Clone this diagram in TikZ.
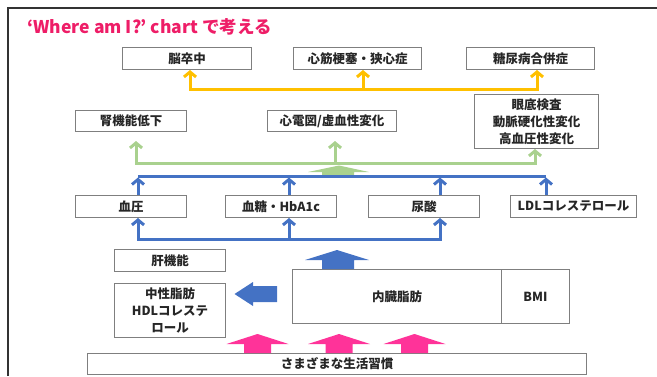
\documentclass[tikz,border=0pt]{standalone}
\usepackage{fontspec}
\setmainfont{Noto Sans CJK JP}
\usetikzlibrary{arrows.meta,calc}
\definecolor{ttl}{HTML}{EE1D67}
\definecolor{yel}{HTML}{FFC000}
\definecolor{grn}{HTML}{A9D18E}
\definecolor{blu}{HTML}{4472C4}
\definecolor{pnk}{HTML}{FF3399}
\definecolor{bord}{HTML}{7F7F7F}
\definecolor{txt}{HTML}{262626}
\tikzset{
  box/.style={draw=bord, line width=1pt, anchor=north west, inner sep=0pt, align=center,
    font=\fontsize{12.5}{17}\selectfont\bfseries, text=txt},
  conn/.style={line width=3pt, line cap=butt},
  tip/.style={-{Straight Barb[length=5pt,width=12pt,line width=3pt]}},
  tips/.style={{Straight Barb[length=5pt,width=12pt,line width=3pt]}-{Straight Barb[length=5pt,width=12pt,line width=3pt]}},
}
\begin{document}
\begin{tikzpicture}[x=1pt,y=-1pt]
\useasboundingbox (0,0) rectangle (657,376);
% frame
\draw[line width=2pt, black!80] (8,376) -- (8,8) -- (657,8);
% title
\node[anchor=west, text=ttl, font=\fontsize{17.5}{20}\selectfont\bfseries, inner sep=0pt] (title) at (27,27) {‘Where am I?’ chart で考える};
% top row
\node[box, minimum width=129pt, minimum height=22pt] (stroke) at (122,47) {脳卒中};
\node[box, minimum width=128pt, minimum height=22pt] (mi) at (293,47) {心筋梗塞・狭心症};
\node[box, minimum width=128pt, minimum height=22pt] (dm) at (466,47) {糖尿病合併症};
% second row
\node[box, minimum width=111pt, minimum height=21pt] (ckd) at (75,110) {腎機能低下};
\node[box, minimum width=129pt, minimum height=21pt] (ecg) at (267,110) {心電図/虚血性変化};
\node[box, minimum width=124pt, minimum height=54pt] (eye) at (474,94) {眼底検査\\動脈硬化性変化\\高血圧性変化};
% third row
\node[box, minimum width=111pt, minimum height=22pt] (bp) at (75,195) {血圧};
\node[box, minimum width=111pt, minimum height=22pt] (bs) at (225,195) {血糖・HbA1c};
\node[box, minimum width=111pt, minimum height=22pt] (ua) at (368,195) {尿酸};
\node[box, minimum width=126pt, minimum height=22pt] (ldl) at (510,195) {LDLコレステロール};
% lower part
\node[box, minimum width=111pt, minimum height=22pt] (liver) at (114,249) {肝機能};
\node[box, minimum width=111pt, minimum height=54pt] (tg) at (114,283) {中性脂肪\\HDLコレステ\\ロール};
\node[box, minimum width=209pt, minimum height=54pt] (vf) at (292,269) {内臓脂肪};
\node[box, minimum width=68pt, minimum height=54pt] (bmi) at (501,269) {BMI};
\node[box, minimum width=499pt, minimum height=21pt] (life) at (87,353) {さまざまな生活習慣};
% yellow connectors
\coordinate (ya) at (190,89);
\coordinate (yb) at (363,89);
\coordinate (yc) at (537,89);
\draw[conn, yel, tips] (ya |- stroke.south) -- (ya) -- (yc) -- (yc |- dm.south);
\draw[conn, yel, tip] (yb) -- (yb |- mi.south);
% green connectors
\coordinate (ga) at (136,163);
\coordinate (gb) at (335,163);
\coordinate (gc) at (535,163);
\draw[conn, grn, tips] ($(ga |- ckd.south)+(0,9)$) -- (ga) -- (gc) -- (gc |- eye.south);
\draw[conn, grn, tip] (gb) -- ($(gb |- ecg.south)+(0,9)$);
% green block arrow (blue bar -> green bar)
\fill[grn] (322,176) -- (322,172) -- (308,172) -- (339,165.5) -- (369,172) -- (354,172) -- (354,176) -- cycle;
% upper blue connectors (row three -> bar)
\coordinate (ba) at (138,176);
\coordinate (bb) at (289,176);
\coordinate (bc) at (440,176);
\coordinate (bd) at (546,176);
\draw[conn, blu] (ba) -- (bd);
\draw[conn, blu, tip] (ba |- bp.north) -- ($(ba)+(0,1.5)$);
\draw[conn, blu, tip] (bb |- bs.north) -- ($(bb)+(0,1.5)$);
\draw[conn, blu, tip] (bc |- ua.north) -- ($(bc)+(0,1.5)$);
\draw[conn, blu, tip] (bd |- ldl.north) -- ($(bd)+(0,1.5)$);
% lower blue connectors (bar -> row three)
\coordinate (la) at (138,239);
\coordinate (lb) at (289,239);
\coordinate (lc) at (440,239);
\draw[conn, blu, tips] (la |- bp.south) -- (la) -- (lc) -- (lc |- ua.south);
\draw[conn, blu, tip] (lb) -- (lb |- bs.south);
% blue block arrow up from visceral fat
\fill[blu] (322,269) -- (322,260) -- (305,260) -- (337,250) -- (369,260) -- (354,260) -- (354,269) -- cycle;
% blue block arrow left towards tg
\fill[blu] (277,286) -- (253,286) -- (253,282) -- (234.5,294) -- (253,306) -- (253,302) -- (277,302) -- cycle;
% pink block arrows
\foreach \c in {257.5,339,414.5}{
  \fill[pnk] (\c-13.5,353) -- (\c-13.5,344) -- (\c-31,344) -- (\c,334) -- (\c+31,344) -- (\c+13.5,344) -- (\c+13.5,353) -- cycle;
}
\end{tikzpicture}
\end{document}
